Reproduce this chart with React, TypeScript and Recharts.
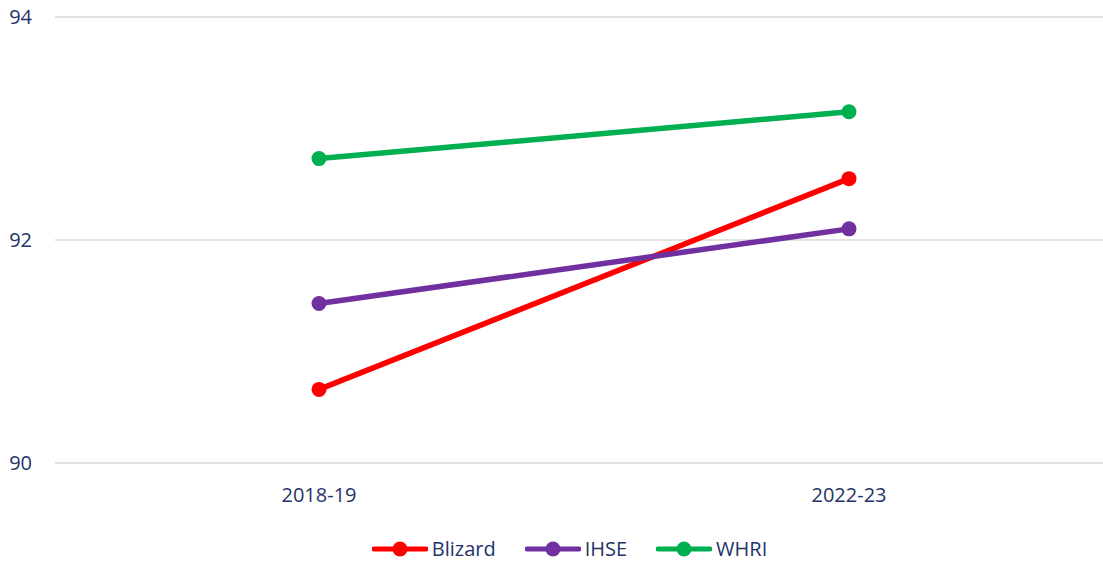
import { LineChart, Line, XAxis, YAxis, CartesianGrid, Legend } from 'recharts';

const periods = ['2018-19', '2022-23'];
const blizard = [90.66, 92.55];
const ihse = [91.43, 92.1];
const whri = [92.73, 93.15];
const yTicks = [90, 92, 94];

const chartData = periods.map((period, i) => ({
  period,
  Blizard: blizard[i],
  IHSE: ihse[i],
  WHRI: whri[i],
}));

const seriesList = [
  { key: 'Blizard', color: '#ff0000' },
  { key: 'IHSE', color: '#7030a0' },
  { key: 'WHRI', color: '#00b050' },
];

const textColor = '#1f3468';
const fontFamily = '"Open Sans", sans-serif';

function LegendContent() {
  return (
    <div style={{ display: 'flex', justifyContent: 'center', alignItems: 'center', paddingLeft: 26, fontFamily, fontSize: 20, color: textColor }}>
      {seriesList.map((s, i) => (
        <div key={s.key} style={{ display: 'flex', alignItems: 'center', marginLeft: i === 0 ? 0 : 29 }}>
          <svg width={56} height={16} style={{ marginRight: 4 }}>
            <line x1={2} y1={8} x2={54} y2={8} stroke={s.color} strokeWidth={5} strokeLinecap="round" />
            <circle cx={28} cy={8} r={7.5} fill={s.color} />
          </svg>
          <span>{s.key}</span>
        </div>
      ))}
    </div>
  );
}

export default function App() {
  return (
    <div style={{ position: 'absolute', left: 0, top: 0, width: 1103, height: 568, overflow: 'hidden', background: '#fff' }}>
      <LineChart width={1113} height={568} data={chartData} margin={{ top: 17, right: 0, bottom: 5, left: 0 }}>
        <CartesianGrid vertical={false} stroke="#d9d9d9" strokeWidth={1.5} />
        <XAxis
          dataKey="period"
          axisLine={false}
          tickLine={false}
          tickSize={0}
          tickMargin={25}
          height={64}
          padding={{ left: 264, right: 264 }}
          tick={{ fill: textColor, fontSize: 20, fontFamily }}
        />
        <YAxis
          domain={[90, 94]}
          ticks={yTicks}
          axisLine={false}
          tickLine={false}
          tickSize={0}
          tickMargin={23}
          width={55}
          tick={{ fill: textColor, fontSize: 20, fontFamily }}
        />
        <Legend verticalAlign="bottom" height={36} wrapperStyle={{ bottom: -3 }} content={<LegendContent />} />
        {seriesList.map((s) => (
          <Line
            key={s.key}
            dataKey={s.key}
            stroke={s.color}
            strokeWidth={5.5}
            dot={{ r: 7.5, fill: s.color, stroke: s.color, strokeWidth: 0 }}
            isAnimationActive={false}
          />
        ))}
      </LineChart>
    </div>
  );
}
